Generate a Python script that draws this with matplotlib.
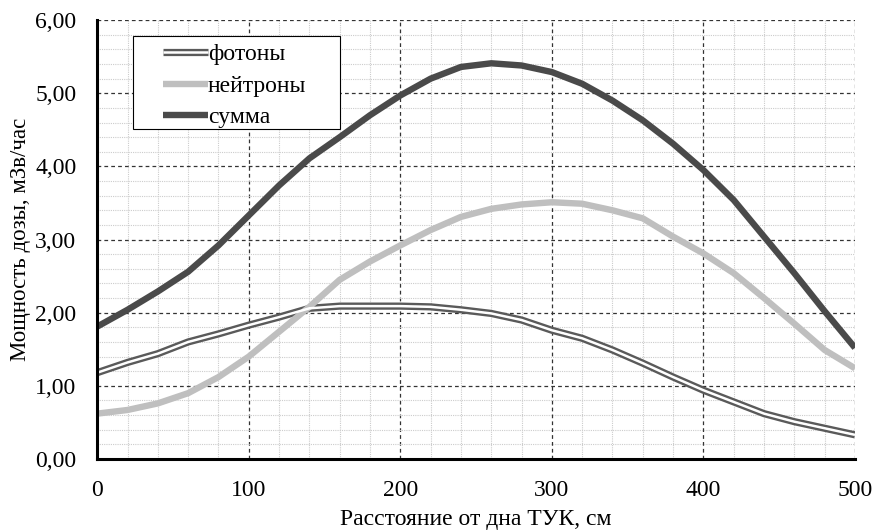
import numpy as np
import matplotlib
matplotlib.use("Agg")
import matplotlib.pyplot as plt
from matplotlib.patches import Rectangle
from matplotlib.legend_handler import HandlerTuple
from matplotlib.ticker import MultipleLocator, FuncFormatter

plt.rcParams['font.family'] = ['Liberation Serif', 'DejaVu Serif']

# distance from cask bottom, cm
x = np.arange(0, 501, 20)
photons = [1.18, 1.32, 1.44, 1.60, 1.71, 1.83, 1.94, 2.06, 2.09, 2.09, 2.09, 2.08, 2.04,
           1.99, 1.90, 1.76, 1.65, 1.49, 1.31, 1.12, 0.94, 0.78, 0.62, 0.51, 0.42, 0.33]
neutrons = [0.62, 0.67, 0.76, 0.90, 1.12, 1.40, 1.74, 2.08, 2.45, 2.70, 2.92, 3.13, 3.31,
            3.42, 3.48, 3.51, 3.49, 3.40, 3.29, 3.04, 2.81, 2.54, 2.20, 1.85, 1.49, 1.24]
total = [1.81, 2.04, 2.29, 2.56, 2.92, 3.33, 3.74, 4.11, 4.40, 4.70, 4.97, 5.20, 5.36,
         5.41, 5.38, 5.29, 5.13, 4.90, 4.63, 4.31, 3.95, 3.54, 3.04, 2.54, 2.02, 1.52]
labels = ['фотоны', 'нейтроны', 'сумма']

fig = plt.figure(figsize=(8.76, 5.30), dpi=100)
ax = fig.add_axes([0.111, 0.134, 0.865, 0.828])

kw = dict(solid_joinstyle='round', solid_capstyle='butt')
p_out, = ax.plot(x, photons, color='#5a5a5a', lw=5.2, zorder=3, **kw)
p_in, = ax.plot(x, photons, color='white', lw=1.8, zorder=4, **kw)
n_line, = ax.plot(x, neutrons, color='#bfbfbf', lw=4.6, zorder=3, **kw)
s_line, = ax.plot(x, total, color='#4a4a4a', lw=4.6, zorder=3, **kw)

ax.set_xlim(0, 500)
ax.set_ylim(0, 6)
ax.xaxis.set_major_locator(MultipleLocator(100))
ax.xaxis.set_minor_locator(MultipleLocator(20))
ax.yaxis.set_major_locator(MultipleLocator(1))
ax.yaxis.set_minor_locator(MultipleLocator(0.2))
ax.yaxis.set_major_formatter(FuncFormatter(lambda v, p: f'{v:.2f}'.replace('.', ',')))

ax.grid(which='minor', color='#cccccc', ls=(0, (1, 1)), lw=0.8, zorder=0)
ax.grid(which='major', color='#333333', ls=(0, (3, 2.5)), lw=0.9, zorder=1)
ax.tick_params(which='both', length=0, labelsize=17)
ax.tick_params(axis='x', pad=15)
ax.tick_params(axis='y', pad=15)

for s in ['top', 'right']:
    ax.spines[s].set_visible(False)
for s in ['left', 'bottom']:
    ax.spines[s].set_linewidth(2.2)
    ax.spines[s].set_zorder(5)

ax.set_xlabel('Расстояние от дна ТУК, см', fontsize=17, labelpad=6)
ax.set_ylabel('Мощность дозы, мЗв/час', fontsize=16.5, labelpad=3)

# legend box drawn separately so the padding matches the original
ax.add_patch(Rectangle((0.0475, 0.752), 0.273, 0.212, transform=ax.transAxes,
                       facecolor='white', edgecolor='black', lw=0.8, zorder=6))
leg = ax.legend([(p_out, p_in), n_line, s_line], labels,
                handler_map={tuple: HandlerTuple(ndivide=1)},
                loc='upper left', bbox_to_anchor=(0.087, 0.946),
                fontsize=17, frameon=False,
                handlelength=1.9, handletextpad=0.0, borderpad=0,
                labelspacing=0.42, borderaxespad=0)
leg.set_zorder(7)

fig.savefig('out.png', dpi=100)
